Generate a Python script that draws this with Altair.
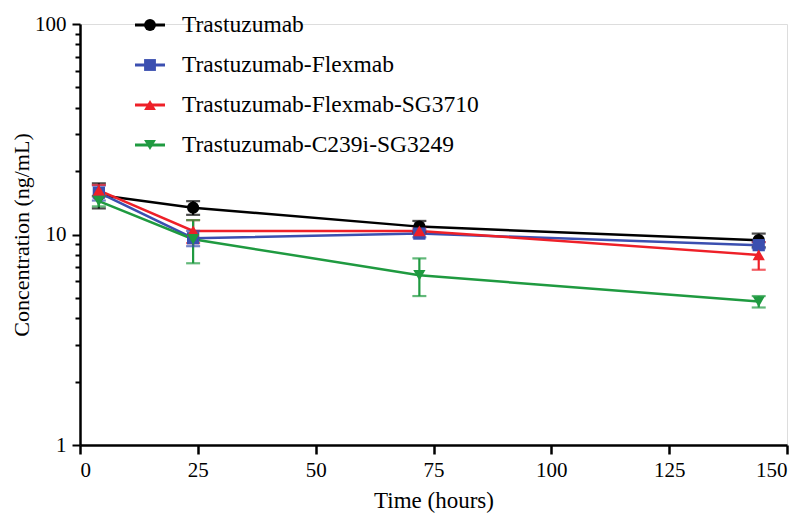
import altair as alt
import pandas as pd

# ---- data ----
series = ["Trastuzumab", "Trastuzumab-Flexmab", "Trastuzumab-Flexmab-SG3710", "Trastuzumab-C239i-SG3249"]
colors = ["#000000", "#3b4fb0", "#ee2028", "#1f9a40"]
plot_shapes = ["circle", "square", "triangle-up", "triangle-down"]
times = [4, 24, 72, 144]
mean_trast = [15.4, 13.4, 10.9, 9.4]
err_trast = [2.1, 1.0, 0.7, 0.7]
mean_flex = [15.8, 9.6, 10.1, 8.9]
err_flex = [1.3, 0.8, 0.4, 0.3]
mean_sg3710 = [16.2, 10.4, 10.4, 8.0]
err_sg3710 = [1.0, 1.3, 0.3, 1.2]
mean_c239i = [14.4, 9.5, 6.4, 4.8]
err_c239i = [0.8, 2.2, 1.3, 0.3]

x_ticks = [0, 25, 50, 75, 100, 125, 150]
y_ticks = [1, 2, 3, 4, 5, 6, 7, 8, 9, 10, 20, 30, 40, 50, 60, 70, 80, 90, 100]

rows = []
for name, means, errs in zip(series, [mean_trast, mean_flex, mean_sg3710, mean_c239i],
                             [err_trast, err_flex, err_sg3710, err_c239i]):
    for t, m, e in zip(times, means, errs):
        rows.append({"series": name, "time": t, "conc": m, "lo": m - e, "hi": m + e})
df = pd.DataFrame(rows)
legend_df = pd.DataFrame({"series": series})

FONT = "Liberation Serif"

xenc = alt.X("time:Q", scale=alt.Scale(domain=[0, 150], nice=False),
             axis=alt.Axis(values=x_ticks, title="Time (hours)", grid=False, format="d",
                           domainWidth=2.5, domainColor="black", tickColor="black", tickWidth=2.5,
                           tickSize=9, labelFont=FONT, labelFontSize=21, labelColor="black",
                           labelPadding=5, titleFont=FONT, titleFontSize=23, titleFontWeight="normal",
                           titleColor="black", titlePadding=9))
yscale = alt.Scale(type="log", domain=[1, 100], nice=False)
major_test = "datum.value == 1 || datum.value == 10 || datum.value == 100"
yenc = alt.Y("conc:Q", scale=yscale,
             axis=alt.Axis(values=y_ticks, title="Concentration (ng/mL)", grid=False,
                           labelExpr=major_test + " ? format(datum.value, 'd') : ''",
                           domainWidth=2.5, domainColor="black", tickColor="black", tickWidth=2,
                           tickSize={"condition": {"test": major_test, "value": 8}, "value": 5},
                           labelFont=FONT, labelFontSize=21, labelColor="black", labelPadding=6,
                           titleFont=FONT, titleFontSize=22, titleFontWeight="normal",
                           titleColor="black", titlePadding=1))

cscale = alt.Scale(domain=series, range=colors)
sscale = alt.Scale(domain=series, range=plot_shapes)
color_enc = alt.Color("series:N", scale=cscale, legend=None)
shape_enc = alt.Shape("series:N", scale=sscale, legend=None)

base = alt.Chart(df)

lines = base.mark_line(strokeWidth=2.5).encode(
    x=xenc, y=yenc, color=color_enc, detail="series:N",
)
bars = base.mark_rule(strokeWidth=2.2).encode(
    x="time:Q", y=alt.Y("lo:Q", scale=yscale), y2="hi:Q", color=color_enc,
)
caps_lo = base.mark_tick(orient="horizontal", size=14, thickness=2.2).encode(
    x="time:Q", y=alt.Y("lo:Q", scale=yscale), color=color_enc,
)
caps_hi = base.mark_tick(orient="horizontal", size=14, thickness=2.2).encode(
    x="time:Q", y=alt.Y("hi:Q", scale=yscale), color=color_enc,
)
points = base.mark_point(filled=True, size=150, opacity=1).encode(
    x="time:Q", y=alt.Y("conc:Q", scale=yscale), color=color_enc, shape=shape_enc,
)

main = alt.layer(lines, bars, caps_lo, caps_hi, points)

# ---- legend (drawn as its own small layer) ----
lbase = alt.Chart(legend_df)
ly = alt.Y("series:N", scale=alt.Scale(type="point", domain=series, range=[1, 121], padding=0), axis=None)
leg_line = lbase.mark_rule(strokeWidth=3).encode(
    x=alt.value(55), x2=alt.value(85), y=ly, color=color_enc,
)
leg_pt = lbase.mark_point(filled=True, size=140, opacity=1).encode(
    x=alt.value(70), y=ly, color=color_enc, shape=shape_enc,
)
leg_txt = lbase.mark_text(align="left", baseline="middle", font=FONT, fontSize=23.5, color="black").encode(
    x=alt.value(102), y=ly, text="series:N",
)
legend = alt.layer(leg_line, leg_pt, leg_txt)

chart = alt.layer(main, legend).resolve_scale(y="independent").properties(
    width=707, height=421,
    autosize=alt.AutoSizeParams(type="none"),
    padding={"left": 80, "top": 24, "right": 17, "bottom": 69},
).configure_view(stroke=None).configure(background="white")

chart.save("out.html", embed_options={"renderer": "svg", "actions": False})
